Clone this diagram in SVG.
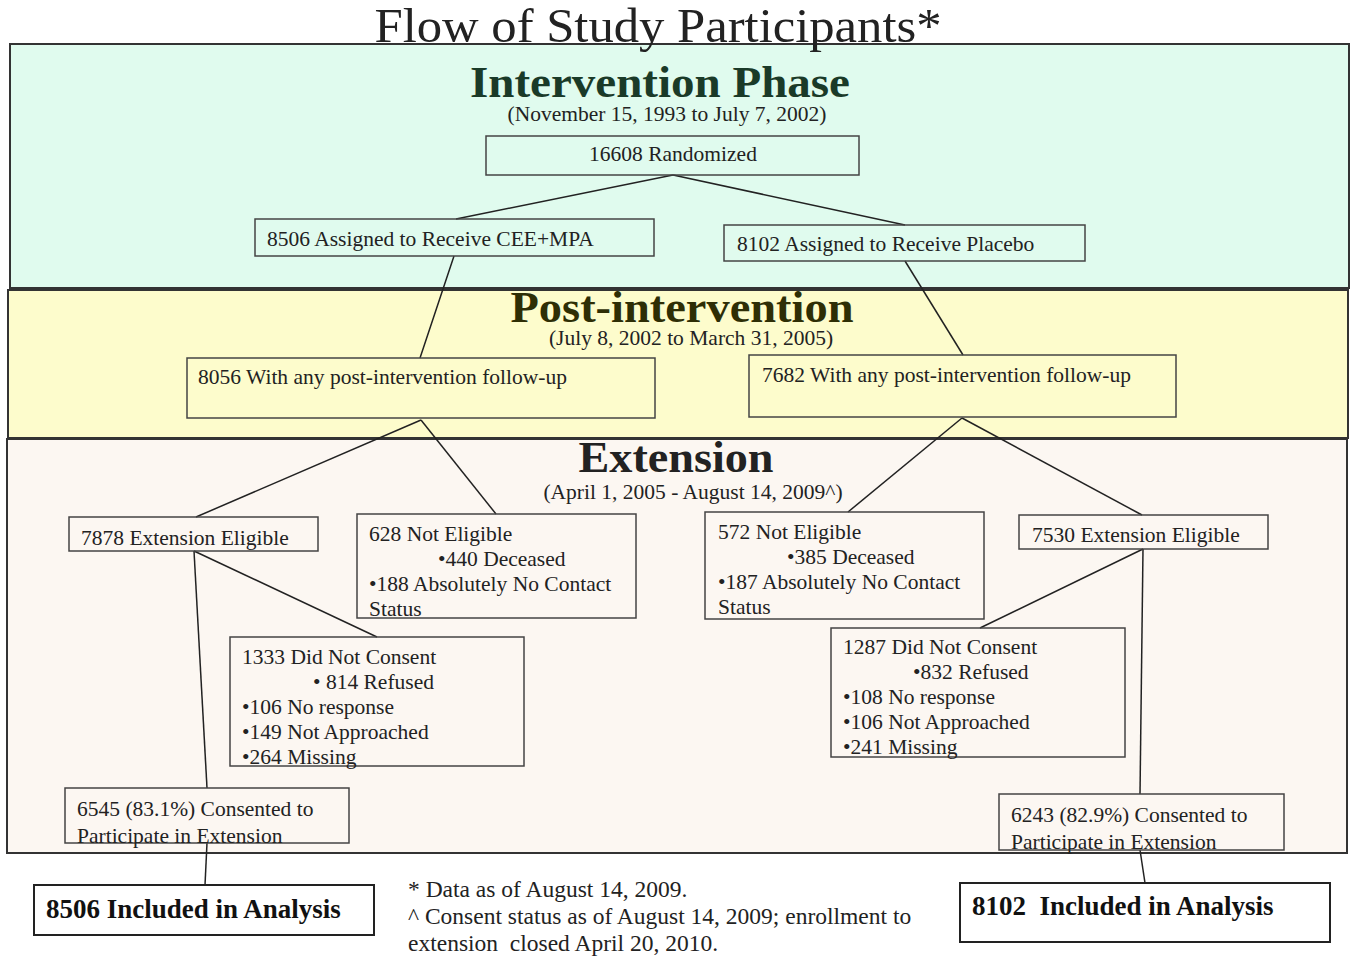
<svg xmlns="http://www.w3.org/2000/svg" width="1352" height="956" viewBox="0 0 1352 956">
<style>
text{font-family:"Liberation Serif","Times New Roman",serif;fill:#222}
.t{font-size:21.5px}
.h{font-size:45px;font-weight:bold;text-anchor:middle}
.s{font-size:21.5px;text-anchor:middle}
.f{font-size:23.5px}
.box{fill:none;stroke:#444;stroke-width:1.5}
.bb{fill:#fff;stroke:#222;stroke-width:2}
.panel{stroke:#333;stroke-width:2}
#connectors line{stroke:#222;stroke-width:1.5}
.b{font-size:27px;font-weight:bold;fill:#111}
</style>
<rect width="1352" height="956" fill="#fff"/>
<g id="panels">
<rect class="panel" x="10" y="44" width="1339" height="244" fill="#e0fbee"/>
<rect class="panel" x="8" y="290" width="1340" height="148" fill="#fdfccc"/>
<rect class="panel" x="7" y="439" width="1340" height="414" fill="#fcf7f2"/>
</g>
<text x="658" y="42" font-size="48" text-anchor="middle" fill="#111" textLength="567" lengthAdjust="spacingAndGlyphs">Flow of Study Participants*</text>
<text class="h" x="660" y="97" style="fill:#1a3a28" textLength="380" lengthAdjust="spacingAndGlyphs">Intervention Phase</text>
<text class="s" x="667" y="121">(November 15, 1993 to July 7, 2002)</text>
<text class="h" x="682" y="322" style="fill:#2e2e05" textLength="343" lengthAdjust="spacingAndGlyphs">Post-intervention</text>
<text class="s" x="691" y="345">(July 8, 2002 to March 31, 2005)</text>
<text class="h" x="676" y="472" style="fill:#222" textLength="195" lengthAdjust="spacingAndGlyphs">Extension</text>
<text class="s" x="693" y="499">(April 1, 2005 - August 14, 2009^)</text>
<g id="connectors">
<line x1="673" y1="175" x2="456" y2="219"/>
<line x1="673" y1="175" x2="905" y2="225"/>
<line x1="454" y1="256" x2="420" y2="358"/>
<line x1="905" y1="261" x2="963" y2="355"/>
<line x1="421" y1="420" x2="196" y2="517"/>
<line x1="421" y1="420" x2="496" y2="514"/>
<line x1="962" y1="418" x2="848" y2="512"/>
<line x1="962" y1="418" x2="1142" y2="515"/>
<line x1="194" y1="551" x2="377" y2="637"/>
<line x1="194" y1="551" x2="207" y2="788"/>
<line x1="1143" y1="549" x2="980" y2="628"/>
<line x1="1143" y1="549" x2="1140" y2="794"/>
<line x1="207" y1="843" x2="205" y2="885"/>
<line x1="1140" y1="850" x2="1145" y2="883"/>
</g>
<g id="n-randomized"><rect class="box" x="486" y="136" width="373" height="39"/><text class="t" x="673" y="161" text-anchor="middle">16608 Randomized</text></g>
<g id="n-cee"><rect class="box" x="255" y="219" width="399" height="37"/><text class="t" x="267" y="246">8506 Assigned to Receive CEE+MPA</text></g>
<g id="n-placebo"><rect class="box" x="724" y="225" width="361" height="36"/><text class="t" x="737" y="251">8102 Assigned to Receive Placebo</text></g>
<g id="n-post-left"><rect class="box" x="187" y="358" width="468" height="60"/><text class="t" x="198" y="384">8056 With any post-intervention follow-up</text></g>
<g id="n-post-right"><rect class="box" x="749" y="355" width="427" height="62"/><text class="t" x="762" y="382">7682 With any post-intervention follow-up</text></g>
<g id="n-elig-left"><rect class="box" x="69" y="517" width="249" height="34"/><text class="t" x="81" y="545">7878 Extension Eligible</text></g>
<g id="n-notelig-left"><rect class="box" x="357" y="514" width="279" height="104"/>
<text class="t" x="369" y="541">628 Not Eligible</text>
<text class="t" x="438" y="566">•440 Deceased</text>
<text class="t" x="369" y="591">•188 Absolutely No Contact</text>
<text class="t" x="369" y="616">Status</text></g>
<g id="n-notelig-right"><rect class="box" x="705" y="512" width="279" height="107"/>
<text class="t" x="718" y="539">572 Not Eligible</text>
<text class="t" x="787" y="564">•385 Deceased</text>
<text class="t" x="718" y="589">•187 Absolutely No Contact</text>
<text class="t" x="718" y="614">Status</text></g>
<g id="n-elig-right"><rect class="box" x="1019" y="515" width="249" height="34"/><text class="t" x="1032" y="542">7530 Extension Eligible</text></g>
<g id="n-noconsent-left"><rect class="box" x="230" y="637" width="294" height="129"/>
<text class="t" x="242" y="664">1333 Did Not Consent</text>
<text class="t" x="313" y="689">• 814 Refused</text>
<text class="t" x="242" y="714">•106 No response</text>
<text class="t" x="242" y="739">•149 Not Approached</text>
<text class="t" x="242" y="764">•264 Missing</text></g>
<g id="n-noconsent-right"><rect class="box" x="831" y="628" width="294" height="129"/>
<text class="t" x="843" y="654">1287 Did Not Consent</text>
<text class="t" x="913" y="679">•832 Refused</text>
<text class="t" x="843" y="704">•108 No response</text>
<text class="t" x="843" y="729">•106 Not Approached</text>
<text class="t" x="843" y="754">•241 Missing</text></g>
<g id="n-consent-left"><rect class="box" x="65" y="788" width="284" height="55"/>
<text class="t" x="77" y="816">6545 (83.1%) Consented to</text>
<text class="t" x="77" y="843">Participate in Extension</text></g>
<g id="n-consent-right"><rect class="box" x="999" y="794" width="285" height="56"/>
<text class="t" x="1011" y="822">6243 (82.9%) Consented to</text>
<text class="t" x="1011" y="849">Participate in Extension</text></g>
<g id="n-incl-left"><rect class="bb" x="34" y="885" width="340" height="50"/><text class="b" x="46" y="918">8506 Included in Analysis</text></g>
<g id="n-incl-right"><rect class="bb" x="960" y="883" width="370" height="59"/><text class="b" x="972" y="915" xml:space="preserve">8102  Included in Analysis</text></g>
<g id="footnotes">
<text class="f" x="408" y="897">* Data as of August 14, 2009.</text>
<text class="f" x="408" y="924">^ Consent status as of August 14, 2009; enrollment to</text>
<text class="f" x="408" y="951" xml:space="preserve">extension  closed April 20, 2010.</text>
</g>
</svg>
